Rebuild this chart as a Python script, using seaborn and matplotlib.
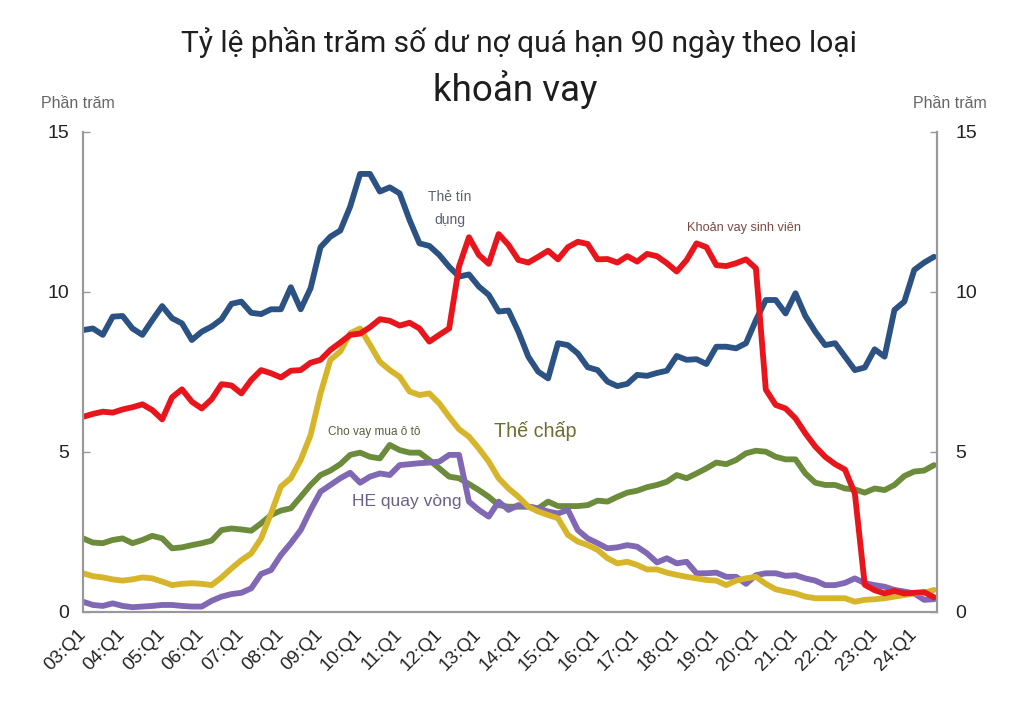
import numpy as np
import pandas as pd
import seaborn as sns
import matplotlib
matplotlib.use("Agg")
import matplotlib.pyplot as plt
from matplotlib.transforms import ScaledTranslation

# ---- data (quarterly, 03:Q1 .. 24:Q3) ----
quarters = [f"{y:02d}:Q{q}" for y in range(3, 25) for q in range(1, 5)][:87]

credit_card = [8.81, 8.86, 8.66, 9.23, 9.25, 8.86, 8.66, 9.12, 9.56, 9.18,
               9.02, 8.50, 8.76, 8.92, 9.15, 9.63, 9.70, 9.35, 9.31, 9.46,
               9.46, 10.15, 9.46, 10.12, 11.40, 11.73, 11.92, 12.67, 13.69, 13.69,
               13.14, 13.27, 13.08, 12.25, 11.52, 11.44, 11.16, 10.79, 10.48, 10.55,
               10.17, 9.91, 9.39, 9.42, 8.76, 7.98, 7.51, 7.30, 8.40, 8.34,
               8.08, 7.65, 7.56, 7.20, 7.06, 7.13, 7.41, 7.38, 7.47, 7.54,
               8.00, 7.88, 7.90, 7.75, 8.29, 8.29, 8.24, 8.40, 9.12, 9.75,
               9.75, 9.33, 9.96, 9.25, 8.76, 8.34, 8.40, 7.98, 7.56, 7.64,
               8.21, 7.98, 9.44, 9.70, 10.69, 10.92, 11.10]

student = [6.10, 6.19, 6.26, 6.23, 6.33, 6.40, 6.49, 6.31, 6.02, 6.71,
           6.96, 6.57, 6.36, 6.65, 7.12, 7.08, 6.83, 7.25, 7.56, 7.46,
           7.33, 7.54, 7.56, 7.79, 7.88, 8.19, 8.42, 8.66, 8.70, 8.90,
           9.15, 9.10, 8.95, 9.04, 8.86, 8.45, 8.66, 8.86, 10.80, 11.71,
           11.16, 10.88, 11.81, 11.47, 11.00, 10.92, 11.10, 11.29, 11.02, 11.40,
           11.57, 11.50, 11.02, 11.03, 10.92, 11.12, 10.95, 11.19, 11.12, 10.90,
           10.64, 11.00, 11.52, 11.40, 10.84, 10.81, 10.90, 11.02, 10.74, 6.95,
           6.47, 6.36, 6.05, 5.58, 5.17, 4.85, 4.62, 4.45, 3.70, 0.85,
           0.68, 0.58, 0.66, 0.58, 0.60, 0.62, 0.46]

auto = [2.30, 2.17, 2.15, 2.25, 2.30, 2.15, 2.25, 2.38, 2.30, 1.99,
        2.02, 2.09, 2.15, 2.23, 2.56, 2.61, 2.58, 2.54, 2.77, 3.03,
        3.17, 3.24, 3.60, 3.97, 4.28, 4.42, 4.62, 4.91, 4.98, 4.85,
        4.80, 5.22, 5.06, 4.98, 4.98, 4.75, 4.49, 4.23, 4.18, 4.00,
        3.81, 3.60, 3.34, 3.29, 3.29, 3.29, 3.24, 3.45, 3.31, 3.31,
        3.31, 3.34, 3.48, 3.45, 3.60, 3.73, 3.79, 3.90, 3.97, 4.07,
        4.28, 4.18, 4.33, 4.49, 4.67, 4.62, 4.75, 4.96, 5.04, 5.01,
        4.85, 4.77, 4.77, 4.33, 4.04, 3.97, 3.97, 3.86, 3.83, 3.73,
        3.86, 3.81, 3.97, 4.25, 4.39, 4.42, 4.59]

mortgage = [1.21, 1.12, 1.08, 1.02, 0.98, 1.02, 1.08, 1.05, 0.95, 0.84,
            0.88, 0.90, 0.88, 0.84, 1.08, 1.36, 1.62, 1.83, 2.30, 3.08,
            3.92, 4.18, 4.75, 5.53, 6.83, 7.88, 8.14, 8.71, 8.86, 8.35,
            7.82, 7.56, 7.35, 6.89, 6.78, 6.83, 6.52, 6.10, 5.71, 5.48,
            5.11, 4.70, 4.18, 3.86, 3.60, 3.29, 3.14, 3.03, 2.93, 2.41,
            2.20, 2.09, 1.94, 1.68, 1.52, 1.57, 1.47, 1.33, 1.33, 1.23,
            1.16, 1.10, 1.05, 1.00, 0.98, 0.84, 0.98, 1.05, 1.10, 0.88,
            0.71, 0.64, 0.58, 0.48, 0.43, 0.43, 0.43, 0.43, 0.32, 0.38,
            0.40, 0.43, 0.48, 0.53, 0.58, 0.60, 0.69]

he_revolving = [0.32, 0.22, 0.19, 0.27, 0.19, 0.15, 0.17, 0.19, 0.22, 0.22,
                0.19, 0.17, 0.17, 0.35, 0.48, 0.56, 0.60, 0.74, 1.19, 1.31,
                1.78, 2.15, 2.56, 3.19, 3.76, 3.97, 4.18, 4.35, 4.04, 4.23,
                4.33, 4.28, 4.59, 4.62, 4.65, 4.67, 4.70, 4.91, 4.91, 3.45,
                3.19, 2.98, 3.45, 3.19, 3.34, 3.29, 3.24, 3.14, 3.08, 3.19,
                2.56, 2.30, 2.15, 1.99, 2.02, 2.09, 2.04, 1.83, 1.55, 1.68,
                1.52, 1.57, 1.21, 1.21, 1.23, 1.10, 1.10, 0.88, 1.15, 1.21,
                1.21, 1.13, 1.15, 1.05, 0.98, 0.84, 0.84, 0.91, 1.05, 0.90,
                0.84, 0.79, 0.69, 0.64, 0.58, 0.38, 0.40]

series_names = ["Thẻ tín dụng", "Cho vay mua ô tô", "HE quay vòng", "Thế chấp", "Khoản vay sinh viên"]
series_values = [credit_card, auto, he_revolving, mortgage, student]
series_colors = ["#2b5283", "#6c8c3c", "#8068b4", "#d7b52a", "#e8161c"]

tick_labels = [f"{y:02d}:Q1" for y in range(3, 25)]
y_ticks = [0, 5, 10, 15]

# ---- build long table ----
rows = []
for name, vals in zip(series_names, series_values):
    for i, v in enumerate(vals):
        rows.append({"t": i, "value": v, "series": name})
df = pd.DataFrame(rows)

sns.set_style("white")
plt.rcParams["font.family"] = ["Liberation Sans", "DejaVu Sans"]

fig = plt.figure(figsize=(10.24, 7.2), dpi=100)
ax = fig.add_axes([83 / 1024, 1 - 612 / 720, (937 - 83) / 1024, (612 - 132) / 720])

sns.lineplot(data=df, x="t", y="value", hue="series", hue_order=series_names,
             palette=dict(zip(series_names, series_colors)), linewidth=4.2,
             legend=False, ax=ax, sort=False)

ax.set_xlim(0, 86.3)
ax.set_ylim(0, 15)
ax.set_xlabel("")
ax.set_ylabel("")

ax.set_xticks(range(0, 87, 4))
ax.set_xticklabels(tick_labels, rotation=45, ha="right", va="top",
                   rotation_mode="anchor", fontsize=13.5, color="#222222")
ax.set_xticks(range(0, 87), minor=True)
ax.tick_params(axis="x", which="both", direction="in", length=5, width=1,
               color="#999999", pad=8)
shift = ScaledTranslation(-6 / 100, -3 / 100, fig.dpi_scale_trans)
for lab in ax.get_xticklabels():
    lab.set_transform(lab.get_transform() + shift)

ax.set_yticks(y_ticks)
ax.set_yticklabels([str(v) for v in y_ticks])
ax.tick_params(axis="y", which="both", direction="in", length=5, width=1,
               color="#999999", labelsize=14, labelcolor="#222222",
               left=True, right=False, labelleft=True, labelright=False, pad=10)

ax2 = ax.twinx()
ax2.set_ylim(0, 15)
ax2.set_yticks(y_ticks)
ax2.set_yticklabels([str(v) for v in y_ticks])
ax2.tick_params(axis="y", direction="in", length=5, width=1, color="#999999",
                labelsize=14, labelcolor="#222222", pad=13)
ax2.grid(False)

for a in (ax, ax2):
    for side in ["left", "right", "bottom"]:
        a.spines[side].set_visible(True)
        a.spines[side].set_color("#999999")
        a.spines[side].set_linewidth(1.5)
    a.spines["top"].set_visible(False)

# ---- line labels ----
ax.text(37.1, 12.6, "Thẻ tín\ndụng", ha="center", va="center", fontsize=10,
        color="#5a6070", linespacing=1.8)
ax.text(66.8, 12.0, "Khoản vay sinh viên", ha="center", va="center",
        fontsize=9.2, color="#7a4a46")
ax.text(29.4, 5.63, "Cho vay mua ô tô", ha="center", va="center",
        fontsize=8.5, color="#5c5c3c")
ax.text(45.7, 5.66, "Thế chấp", ha="center", va="center", fontsize=14.2,
        color="#6e6e32")
ax.text(32.7, 3.44, "HE quay vòng", ha="center", va="center", fontsize=12.5,
        color="#6b6184")

# ---- titles ----
fig.text(519 / 1024, 1 - 42 / 720, "Tỷ lệ phần trăm số dư nợ quá hạn 90 ngày theo loại",
         ha="center", va="center", fontsize=21.5, color="#1e1e1e", family="Roboto")
fig.text(515 / 1024, 1 - 90 / 720, "khoản vay", ha="center", va="center",
         fontsize=26.5, color="#1e1e1e", family="Roboto")
fig.text(78 / 1024, 1 - 103 / 720, "Phần trăm", ha="center", va="center",
         fontsize=11.5, color="#666666")
fig.text(950 / 1024, 1 - 104 / 720, "Phần trăm", ha="center", va="center",
         fontsize=11.5, color="#666666")

fig.savefig("out.png", dpi=100, facecolor="white")
